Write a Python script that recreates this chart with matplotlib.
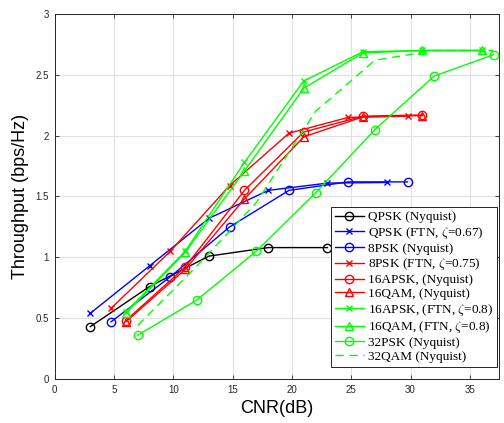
import matplotlib
matplotlib.use("Agg")
import matplotlib.pyplot as plt

plt.rcParams["mathtext.fontset"] = "cm"

# CNR (dB) and throughput (bps/Hz)
qpsk_x = [3, 8, 13, 18, 23]
qpsk_y = [0.43, 0.76, 1.01, 1.08, 1.08]

qpsk_ftn_x = [3, 8, 13, 18, 23, 28]
qpsk_ftn_y = [0.54, 0.93, 1.32, 1.55, 1.61, 1.615]

psk8_x = [4.75, 9.75, 14.75, 19.75, 24.75, 29.75]
psk8_y = [0.47, 0.84, 1.25, 1.55, 1.62, 1.62]
psk8_ftn_y = [0.58, 1.05, 1.59, 2.02, 2.15, 2.16]

m16_x = [6, 11, 16, 21, 26, 31]
apsk16_y = [0.48, 0.92, 1.55, 2.03, 2.16, 2.17]
qam16_y = [0.47, 0.90, 1.48, 1.99, 2.155, 2.165]

m16_ftn_x = [6, 11, 16, 21, 26, 31, 36]
apsk16_ftn_y = [0.55, 1.05, 1.78, 2.45, 2.69, 2.70, 2.70]
qam16_ftn_y = [0.54, 1.04, 1.71, 2.39, 2.68, 2.70, 2.70]

m32_x = [7, 12, 17, 22, 27, 32, 37]
psk32_y = [0.36, 0.65, 1.05, 1.53, 2.05, 2.49, 2.665]
qam32_y = [0.44, 0.93, 1.45, 2.20, 2.62, 2.70, 2.70]

fig = plt.figure(figsize=(5.04, 4.23), dpi=100)
ax = fig.add_axes([0.1085, 0.104, 0.8825, 0.863])

lw = 1.0
ms = 6
ax.plot(qpsk_x, qpsk_y, "k-o", lw=lw, ms=ms, mfc="none", label="QPSK (Nyquist)")
ax.plot(qpsk_ftn_x, qpsk_ftn_y, "b-x", lw=lw, ms=4, label=r"QPSK (FTN, $\zeta$=0.67)")
ax.plot(psk8_x, psk8_y, "b-o", lw=lw, ms=ms, mfc="none", label="8PSK (Nyquist)")
ax.plot(psk8_x, psk8_ftn_y, "r-x", lw=lw, ms=4, label=r"8PSK (FTN, $\zeta$=0.75)")
ax.plot(m16_x, apsk16_y, "r-o", lw=lw, ms=ms, mfc="none", label="16APSK, (Nyquist)")
ax.plot(m16_x, qam16_y, "r-^", lw=lw, ms=ms, mfc="none", label="16QAM, (Nyquist)")
ax.plot(m16_ftn_x, apsk16_ftn_y, "-x", color=(0, 1, 0), lw=lw, ms=4,
        label=r"16APSK, (FTN, $\zeta$=0.8)")
ax.plot(m16_ftn_x, qam16_ftn_y, "-^", color=(0, 1, 0), lw=lw, ms=ms, mfc="none",
        label=r"16QAM, (FTN, $\zeta$=0.8)")
ax.plot(m32_x, psk32_y, "-o", color=(0, 1, 0), lw=lw, ms=ms, mfc="none",
        label="32PSK (Nyquist)")
ax.plot(m32_x, qam32_y, "--", color=(0, 1, 0), lw=lw, dashes=(6, 4),
        label="32QAM (Nyquist)")

ax.set_xlim(0, 37.5)
ax.set_ylim(0, 3)
ax.set_xticks(range(0, 40, 5))
ax.set_yticks([0, 0.5, 1, 1.5, 2, 2.5, 3])
ax.set_yticklabels(["0", "0.5", "1", "1.5", "2", "2.5", "3"])
ax.grid(True, color=(0.88, 0.88, 0.88), lw=0.8)
ax.set_axisbelow(True)
ax.tick_params(direction="in", top=True, right=True, length=3, width=0.6,
               labelsize=7, colors=(0.15, 0.15, 0.15), pad=4)
for lab in ax.get_xticklabels() + ax.get_yticklabels():
    lab.set_family("Liberation Sans")
for sp in ax.spines.values():
    sp.set_color((0.15, 0.15, 0.15))
    sp.set_linewidth(0.7)

ax.set_xlabel("CNR(dB)", family="Liberation Sans", fontsize=13, labelpad=4)
ax.set_ylabel("Throughput (bps/Hz)", family="Liberation Sans", fontsize=13, labelpad=5)

leg = ax.legend(loc="lower right", bbox_to_anchor=(0.998, 0.03),
                prop={"family": "Liberation Serif", "size": 9.5},
                handlelength=2.2, handletextpad=0.3, labelspacing=0.12,
                borderpad=0.3, borderaxespad=0.1, fancybox=False, framealpha=1)
leg.get_frame().set_edgecolor("black")
leg.get_frame().set_linewidth(0.6)

fig.savefig("out.png", dpi=100)
